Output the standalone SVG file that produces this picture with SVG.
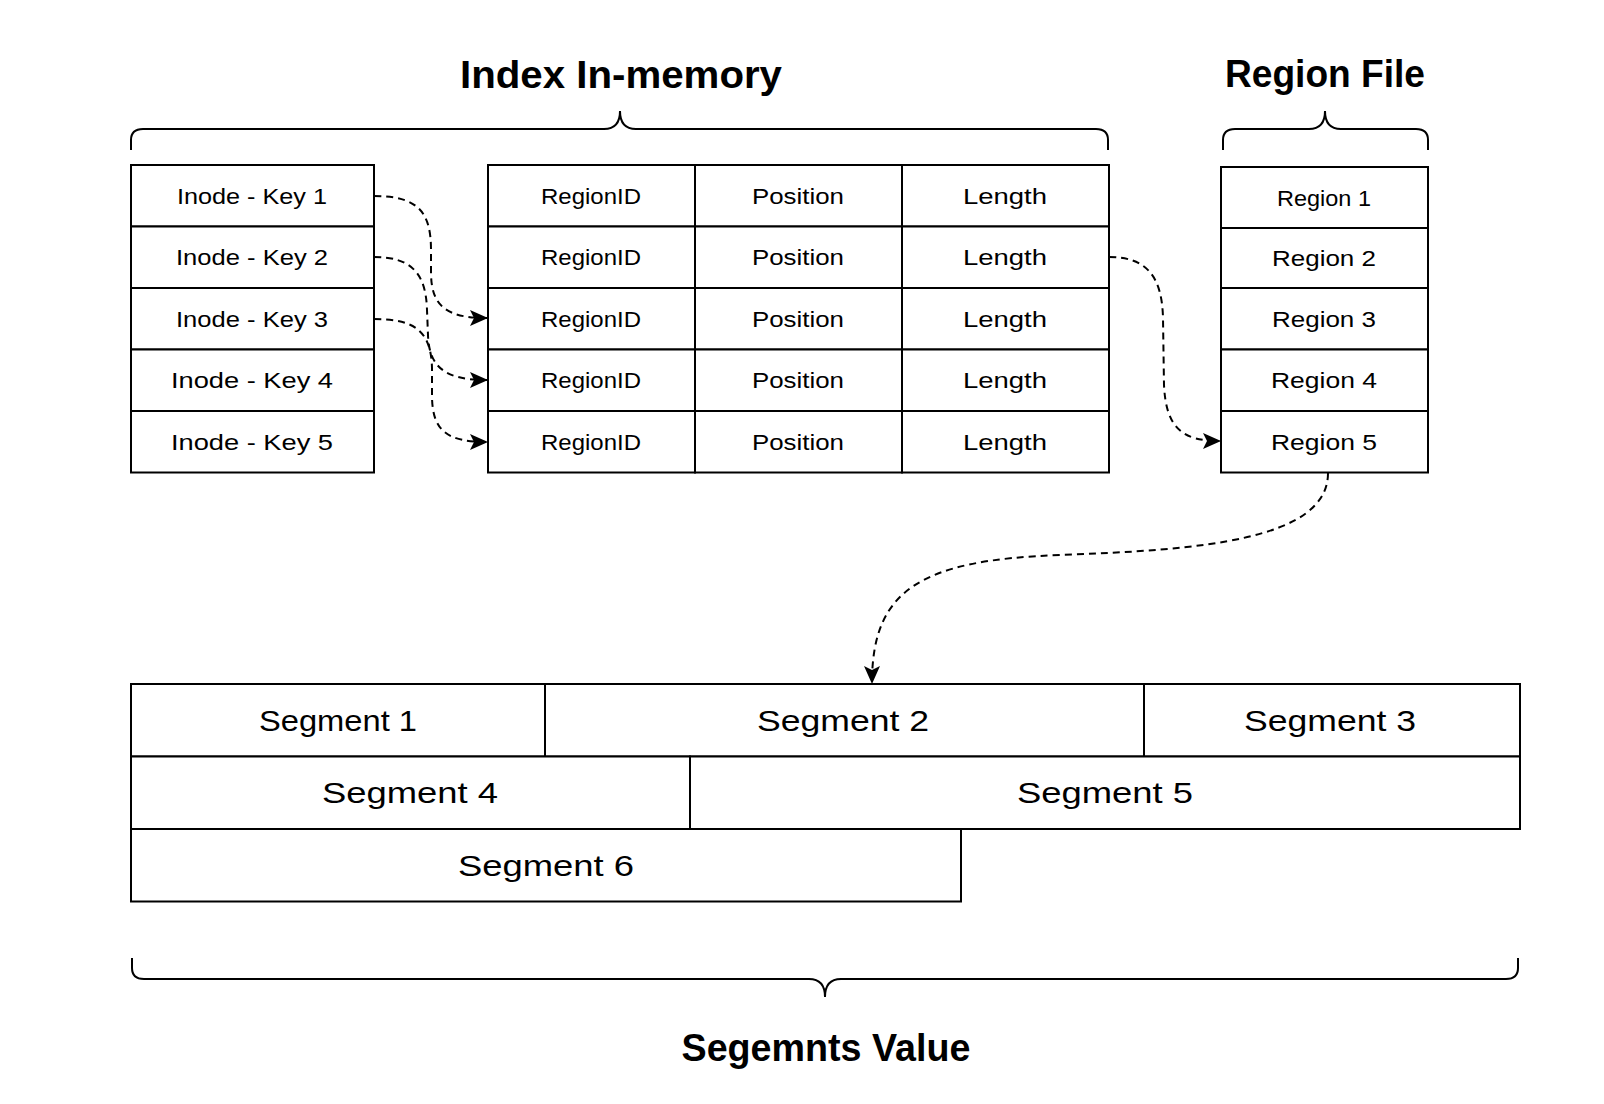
<svg xmlns="http://www.w3.org/2000/svg" width="1604" height="1104" viewBox="0 0 1604 1104">
<style>
.cell{fill:#fff;stroke:#000;stroke-width:2}
.t{font-family:"Liberation Sans",Arial,sans-serif;font-size:22px;fill:#000;text-anchor:middle}
.s{font-family:"Liberation Sans",Arial,sans-serif;font-size:29px;fill:#000;text-anchor:middle}
.h{font-family:"Liberation Sans",Arial,sans-serif;font-size:38px;font-weight:bold;fill:#000;text-anchor:middle}
.brace{fill:none;stroke:#000;stroke-width:2}
.conn{fill:none;stroke:#000;stroke-width:2;stroke-dasharray:7 5}
</style>
<defs>
<marker id="arr" viewBox="0 0 18 16" refX="17" refY="8" markerWidth="18" markerHeight="16" markerUnits="userSpaceOnUse" orient="auto" overflow="visible">
<path d="M0,0 L18,8 L0,16 L4,8 z" fill="#000"/>
</marker>
</defs>
<rect width="1604" height="1104" fill="#fff"/>

<g id="title-index"><text class="h" x="621" y="88" textLength="322" lengthAdjust="spacingAndGlyphs">Index In-memory</text></g>
<g id="title-region"><text class="h" x="1325" y="87" textLength="200" lengthAdjust="spacingAndGlyphs">Region File</text></g>
<g id="title-segments"><text class="h" x="826" y="1061" textLength="289" lengthAdjust="spacingAndGlyphs">Segemnts Value</text></g>

<g id="brace-index"><path class="brace" d="M131,150 L131,140 Q131,129 143,129 L604,129 Q620,129 620,111 Q620,129 636,129 L1096,129 Q1108,129 1108,140 L1108,150"/></g>
<g id="brace-region"><path class="brace" d="M1223,150 L1223,140 Q1223,129 1235,129 L1309,129 Q1325,129 1325,111 Q1325,129 1341,129 L1416,129 Q1428,129 1428,140 L1428,150"/></g>
<g id="brace-segments"><path class="brace" d="M132,958 L132,968 Q132,979 144,979 L809,979 Q825,979 825,997 Q825,979 841,979 L1506,979 Q1518,979 1518,968 L1518,958"/></g>

<g id="inode-keys">
<g id="key1"><rect class="cell" x="131" y="165" width="243" height="61.5"/><text class="t" x="252" y="204" textLength="150" lengthAdjust="spacingAndGlyphs">Inode - Key 1</text></g>
<g id="key2"><rect class="cell" x="131" y="226.5" width="243" height="61.5"/><text class="t" x="252" y="265" textLength="152" lengthAdjust="spacingAndGlyphs">Inode - Key 2</text></g>
<g id="key3"><rect class="cell" x="131" y="288" width="243" height="61.5"/><text class="t" x="252" y="327" textLength="152" lengthAdjust="spacingAndGlyphs">Inode - Key 3</text></g>
<g id="key4"><rect class="cell" x="131" y="349.5" width="243" height="61.5"/><text class="t" x="252" y="388" textLength="162" lengthAdjust="spacingAndGlyphs">Inode - Key 4</text></g>
<g id="key5"><rect class="cell" x="131" y="411" width="243" height="61.5"/><text class="t" x="252" y="450" textLength="162" lengthAdjust="spacingAndGlyphs">Inode - Key 5</text></g>
</g>

<g id="index-table">
<g id="idx-row1">
<rect class="cell" x="488" y="165" width="207" height="61.5"/><text class="t" x="591" y="204" textLength="100" lengthAdjust="spacingAndGlyphs">RegionID</text>
<rect class="cell" x="695" y="165" width="207" height="61.5"/><text class="t" x="798" y="204" textLength="92" lengthAdjust="spacingAndGlyphs">Position</text>
<rect class="cell" x="902" y="165" width="207" height="61.5"/><text class="t" x="1005" y="204" textLength="84" lengthAdjust="spacingAndGlyphs">Length</text>
</g>
<g id="idx-row2">
<rect class="cell" x="488" y="226.5" width="207" height="61.5"/><text class="t" x="591" y="265" textLength="100" lengthAdjust="spacingAndGlyphs">RegionID</text>
<rect class="cell" x="695" y="226.5" width="207" height="61.5"/><text class="t" x="798" y="265" textLength="92" lengthAdjust="spacingAndGlyphs">Position</text>
<rect class="cell" x="902" y="226.5" width="207" height="61.5"/><text class="t" x="1005" y="265" textLength="84" lengthAdjust="spacingAndGlyphs">Length</text>
</g>
<g id="idx-row3">
<rect class="cell" x="488" y="288" width="207" height="61.5"/><text class="t" x="591" y="327" textLength="100" lengthAdjust="spacingAndGlyphs">RegionID</text>
<rect class="cell" x="695" y="288" width="207" height="61.5"/><text class="t" x="798" y="327" textLength="92" lengthAdjust="spacingAndGlyphs">Position</text>
<rect class="cell" x="902" y="288" width="207" height="61.5"/><text class="t" x="1005" y="327" textLength="84" lengthAdjust="spacingAndGlyphs">Length</text>
</g>
<g id="idx-row4">
<rect class="cell" x="488" y="349.5" width="207" height="61.5"/><text class="t" x="591" y="388" textLength="100" lengthAdjust="spacingAndGlyphs">RegionID</text>
<rect class="cell" x="695" y="349.5" width="207" height="61.5"/><text class="t" x="798" y="388" textLength="92" lengthAdjust="spacingAndGlyphs">Position</text>
<rect class="cell" x="902" y="349.5" width="207" height="61.5"/><text class="t" x="1005" y="388" textLength="84" lengthAdjust="spacingAndGlyphs">Length</text>
</g>
<g id="idx-row5">
<rect class="cell" x="488" y="411" width="207" height="61.5"/><text class="t" x="591" y="450" textLength="100" lengthAdjust="spacingAndGlyphs">RegionID</text>
<rect class="cell" x="695" y="411" width="207" height="61.5"/><text class="t" x="798" y="450" textLength="92" lengthAdjust="spacingAndGlyphs">Position</text>
<rect class="cell" x="902" y="411" width="207" height="61.5"/><text class="t" x="1005" y="450" textLength="84" lengthAdjust="spacingAndGlyphs">Length</text>
</g>
</g>

<g id="region-file">
<g id="region1"><rect class="cell" x="1221" y="167" width="207" height="61"/><text class="t" x="1324" y="206" textLength="94" lengthAdjust="spacingAndGlyphs">Region 1</text></g>
<g id="region2"><rect class="cell" x="1221" y="228" width="207" height="60"/><text class="t" x="1324" y="266" textLength="104" lengthAdjust="spacingAndGlyphs">Region 2</text></g>
<g id="region3"><rect class="cell" x="1221" y="288" width="207" height="61.5"/><text class="t" x="1324" y="327" textLength="104" lengthAdjust="spacingAndGlyphs">Region 3</text></g>
<g id="region4"><rect class="cell" x="1221" y="349.5" width="207" height="61.5"/><text class="t" x="1324" y="388" textLength="106" lengthAdjust="spacingAndGlyphs">Region 4</text></g>
<g id="region5"><rect class="cell" x="1221" y="411" width="207" height="61.5"/><text class="t" x="1324" y="450" textLength="106" lengthAdjust="spacingAndGlyphs">Region 5</text></g>
</g>

<g id="segments">
<g id="seg1"><rect class="cell" x="131" y="684" width="414" height="72.5"/><text class="s" x="338" y="731" textLength="158" lengthAdjust="spacingAndGlyphs">Segment 1</text></g>
<g id="seg2"><rect class="cell" x="545" y="684" width="599" height="72.5"/><text class="s" x="843" y="731" textLength="172" lengthAdjust="spacingAndGlyphs">Segment 2</text></g>
<g id="seg3"><rect class="cell" x="1144" y="684" width="376" height="72.5"/><text class="s" x="1330" y="731" textLength="172" lengthAdjust="spacingAndGlyphs">Segment 3</text></g>
<g id="seg4"><rect class="cell" x="131" y="756.5" width="559" height="72.5"/><text class="s" x="410" y="803" textLength="176" lengthAdjust="spacingAndGlyphs">Segment 4</text></g>
<g id="seg5"><rect class="cell" x="690" y="756.5" width="830" height="72.5"/><text class="s" x="1105" y="803" textLength="176" lengthAdjust="spacingAndGlyphs">Segment 5</text></g>
<g id="seg6"><rect class="cell" x="131" y="829" width="830" height="72.5"/><text class="s" x="546" y="876" textLength="176" lengthAdjust="spacingAndGlyphs">Segment 6</text></g>
</g>

<g id="connectors">
<path class="conn" marker-end="url(#arr)" d="M374,196 C418,196 431,212 431,250 L431,272 C431,306 446,318 487,318"/>
<path class="conn" marker-end="url(#arr)" d="M374,257 C412,257 426,274 427,310 L428,335 C429,368 446,380 487,380"/>
<path class="conn" marker-end="url(#arr)" d="M374,319 C416,319 431,332 432,368 L432,398 C433,430 446,442 487,442"/>
<path class="conn" marker-end="url(#arr)" d="M1109,257 C1148,257 1162,278 1163,318 L1164,385 C1166,428 1182,441 1220,441"/>
<path class="conn" marker-end="url(#arr)" d="M1328,473 C1328,540 1200,550 1060,555 C920,560 872,590 872,683"/>
</g>
</svg>
